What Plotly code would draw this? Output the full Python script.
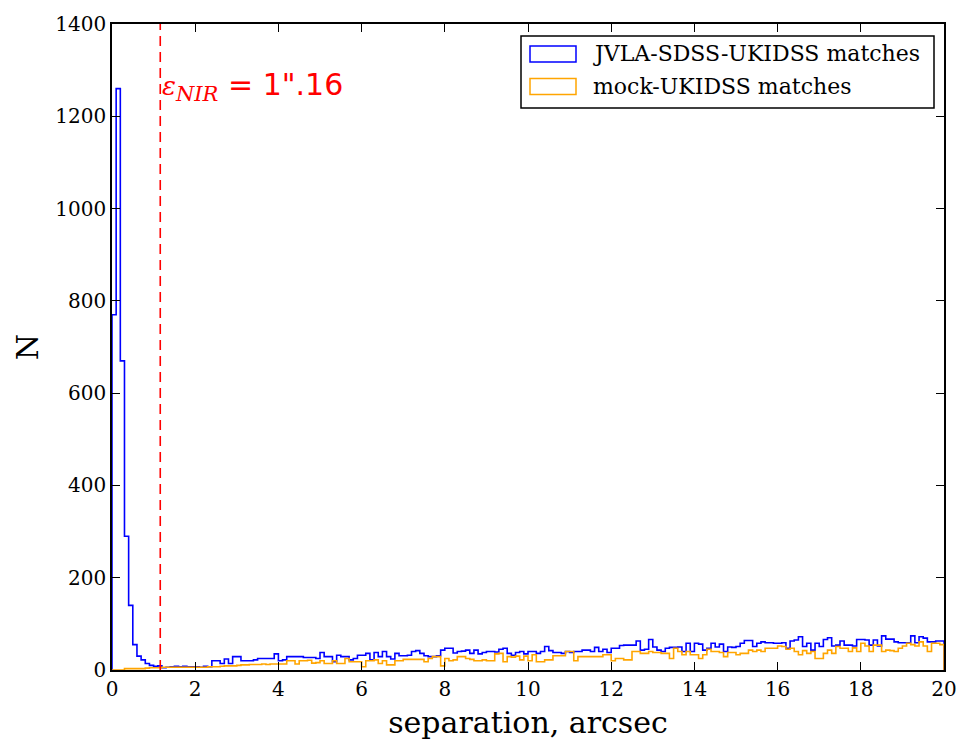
import numpy as np
import plotly.graph_objects as go

# bin edges (arcsec), 0.1" bins
bin_edges = [round(0.1 * i, 1) for i in range(201)]

jvla_counts = [
    770, 1260, 670, 290, 140, 55, 30, 22, 14, 10,
    8, 9, 5, 6, 7, 8, 7, 8, 7, 7,
    7, 6, 8, 7, 20, 20, 14, 24, 14, 29,
    29, 20, 20, 20, 22, 25, 25, 25, 25, 35,
    20, 22, 29, 29, 29, 29, 27, 27, 27, 25,
    38, 29, 29, 18, 32, 29, 29, 22, 25, 32,
    32, 36, 22, 38, 29, 40, 29, 24, 36, 31,
    31, 32, 40, 42, 36, 31, 29, 29, 31, 43,
    47, 47, 37, 40, 41, 43, 36, 43, 35, 38,
    40, 40, 39, 45, 47, 36, 32, 38, 40, 35,
    40, 40, 36, 40, 51, 42, 38, 38, 36, 40,
    38, 40, 40, 43, 43, 40, 49, 40, 45, 38,
    47, 47, 53, 54, 54, 54, 63, 43, 45, 66,
    50, 43, 40, 47, 49, 49, 50, 40, 58, 40,
    58, 56, 43, 47, 58, 50, 56, 40, 50, 49,
    51, 58, 64, 64, 51, 58, 61, 59, 59, 58,
    58, 59, 47, 63, 65, 72, 51, 58, 43, 58,
    51, 66, 70, 52, 54, 63, 54, 54, 52, 66,
    66, 65, 54, 65, 52, 74, 67, 67, 61, 59,
    59, 59, 74, 59, 72, 69, 61, 61, 63, 63,
]

mock_counts = [
    0, 0, 0, 3, 3, 3, 3, 3, 4, 5,
    5, 5, 6, 6, 6, 6, 6, 6, 6, 6,
    6, 6, 6, 7, 7, 7, 8, 9, 9, 9,
    10, 11, 11, 12, 12, 12, 13, 12, 13, 13,
    13, 13, 20, 20, 13, 20, 20, 21, 15, 16,
    20, 14, 14, 20, 14, 14, 25, 18, 18, 18,
    7, 20, 20, 22, 14, 20, 11, 11, 20, 20,
    23, 23, 23, 23, 23, 18, 25, 29, 29, 9,
    25, 20, 22, 29, 29, 25, 23, 20, 20, 22,
    20, 20, 35, 36, 18, 29, 28, 30, 22, 30,
    20, 33, 18, 18, 22, 22, 31, 31, 31, 40,
    40, 20, 29, 29, 29, 29, 29, 29, 33, 33,
    20, 25, 25, 22, 22, 40, 40, 36, 36, 40,
    38, 38, 36, 36, 25, 47, 40, 33, 40, 33,
    33, 25, 33, 45, 40, 40, 38, 29, 38, 38,
    33, 36, 36, 43, 40, 43, 40, 47, 47, 47,
    52, 51, 45, 47, 40, 33, 42, 36, 40, 25,
    25, 36, 43, 36, 51, 47, 47, 40, 48, 40,
    58, 52, 40, 54, 54, 40, 43, 42, 40, 47,
    52, 58, 55, 52, 61, 52, 40, 58, 58, 55,
]

eps_nir = 1.16
series_names = ["JVLA-SDSS-UKIDSS matches", "mock-UKIDSS matches"]
series_colors = ["#0000ff", "#ffa500"]

# figure geometry (pixels)
W, H = 962, 740
ML, MR, MT, MB = 112, 18, 24, 70
PW, PH = W - ML - MR, H - MT - MB


def px_to_paper(px, py):
    return (px - ML) / PW, (H - MB - py) / PH


def step_xy(edges, counts):
    xs = [edges[0]] + list(edges) + [edges[-1]]
    ys = [0] + list(counts) + [counts[-1], 0]
    return xs, ys


fig = go.Figure()

for name, counts, color in zip(series_names, [jvla_counts, mock_counts], series_colors):
    xs, ys = step_xy(bin_edges, counts)
    fig.add_trace(go.Scatter(
        x=xs, y=ys, mode="lines", name=name,
        line=dict(color=color, width=1.6, shape="hv"),
        showlegend=False, hoverinfo="skip",
    ))

# dashed marker of the NIR positional error
fig.add_shape(type="line", x0=eps_nir, x1=eps_nir, y0=0, y1=1, yref="paper", xref="x",
              line=dict(color="#ff0000", width=1.6, dash="10px,6px"))

serif_it = "font-family:'DejaVu Serif';font-style:italic"
fig.add_annotation(
    x=eps_nir, y=1265, xref="x", yref="y", xanchor="left", yanchor="middle",
    text=(f"<span style=\"{serif_it};font-size:26px\">ε</span>"
          f"<sub><span style=\"{serif_it};font-size:21px\">NIR</span></sub>"
          " = 1\".16"),
    showarrow=False,
    font=dict(family="DejaVu Sans", size=30, color="#ff0000"),
)

# legend drawn as framed box with outlined patches
lx0, ly0 = px_to_paper(521, 36)
lx1, ly1 = px_to_paper(934, 108)
fig.add_shape(type="rect", xref="paper", yref="paper", x0=lx0, x1=lx1, y0=ly1, y1=ly0,
              line=dict(color="black", width=1.5), fillcolor="white", layer="above")
for i, (name, color) in enumerate(zip(series_names, series_colors)):
    top = 46 + i * 32.5
    px0, py0 = px_to_paper(530, top)
    px1, py1 = px_to_paper(576, top + 16)
    fig.add_shape(type="rect", xref="paper", yref="paper", x0=px0, x1=px1, y0=py1, y1=py0,
                  line=dict(color=color, width=1.5), fillcolor="rgba(0,0,0,0)", layer="above")
    tx, ty = px_to_paper(591, top + 8)
    fig.add_annotation(x=tx, y=ty, xref="paper", yref="paper", xanchor="left", yanchor="middle",
                       text=name, showarrow=False,
                       font=dict(family="DejaVu Serif", size=22, color="black"))

axis_common = dict(
    showline=True, linecolor="black", linewidth=1.5, mirror="ticks",
    ticks="inside", ticklen=8, tickwidth=1.2, tickcolor="black",
    showgrid=False, zeroline=False, automargin=False,
    tickfont=dict(family="DejaVu Serif", size=20, color="black"),
)

fig.update_xaxes(range=[0, 20], dtick=2, tick0=0,
                 title=dict(text="separation, arcsec", font=dict(family="DejaVu Serif", size=30, color="black"), standoff=12),
                 **axis_common)
fig.update_yaxes(range=[0, 1400], dtick=200, tick0=0,
                 title=dict(text="N", font=dict(family="DejaVu Serif", size=30, color="black"), standoff=8),
                 **axis_common)

fig.update_layout(
    width=W, height=H,
    margin=dict(l=ML, r=MR, t=MT, b=MB),
    plot_bgcolor="white", paper_bgcolor="white",
    showlegend=False,
)

fig.write_html("out.html")
